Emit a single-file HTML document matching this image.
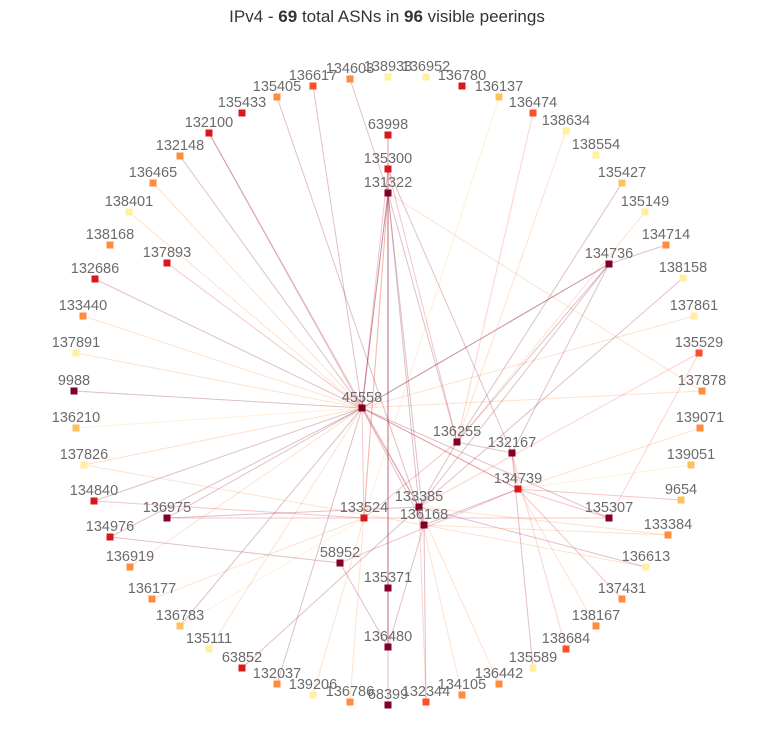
<!DOCTYPE html>
<html><head><meta charset="utf-8">
<style>
body{margin:0;background:#fff;}
svg{display:block;font-family:"Liberation Sans",sans-serif;}
.lbl{font-size:14.5px;fill:#6b6b6b;text-anchor:middle;}
</style></head>
<body>
<svg id="chart" width="774" height="751" viewBox="0 0 774 751">
<text x="387" y="22" text-anchor="middle" font-size="17" fill="#333">IPv4 - <tspan font-weight="bold">69</tspan> total ASNs in <tspan font-weight="bold">96</tspan> visible peerings</text>
<g id="edges"></g>
<g id="nodes"></g>
</svg>
<script>
const C={d:"#800026",r:"#d7191c",o:"#fc4e2a",f:"#fd8d3c",y:"#fec25c",p:"#ffef9f"};
const nodeNames=["136617","134603","138933","136952","136780","136137","136474","138634","138554","135427","135149","134714","138158","137861","135529","137878","139071","139051","9654","133384","136613","137431","138167","138684","135589","136442","134105","132344","68399","136786","139206","132037","63852","135111","136783","136177","136919","134976","134840","137826","136210","9988","137891","133440","132686","138168","138401","136465","132148","132100","135433","135405",
"63998","135300","131322","137893","134736","45558","136255","132167","134739","133385","136168","133524","136975","135307","58952","135371","136480"];
const nodeX=[313,350,388,426,462,499,533,566,596,622,645,666,683,694,699,702,700,691,681,668,646,622,596,566,533,499,462,426,388,350,313,277,242,209,180,152,130,110,94,84,76,74,76,83,95,110,129,153,180,209,242,277,
388,388,388,167,609,362,457,512,518,419,424,364,167,609,340,388,388];
const nodeY=[86,79,77,77,86,97,113,131,155,183,212,245,278,316,353,391,428,465,500,535,567,599,626,649,668,684,695,702,705,702,695,684,668,649,626,599,567,537,501,465,428,391,353,316,279,245,212,183,156,133,113,97,
135,169,193,263,264,408,442,453,489,507,525,518,518,518,563,588,647];
const nodeColor=["o","f","p","p","r","y","o","p","p","y","p","f","p","p","o","f","f","y","y","f","p","f","f","o","p","f","f","o","d","f","p","f","r","p","y","f","f","r","r","p","y","d","p","f","r","f","p","f","f","r","r","f",
"r","r","d","r","d","d","d","d","r","d","d","r","d","d","d","d","d"];
const edgeSource=["45558","45558","45558","45558","45558","45558","45558","45558","45558","45558","45558","45558","45558","45558","45558","45558","45558","45558","45558","45558","45558","45558","45558","45558","45558","45558",
"131322","131322","131322","131322","131322","131322","131322","131322","131322","131322","131322","131322","131322",
"135300","135300","63998","134736","134736","134736","134736","134736",
"136255","136255","136255","136255","136255","136255",
"132167","132167","132167","132167",
"134739","134739","134739","134739","134739","134739","134739",
"133385","133385","133385","133385","133385","133385","133385","133385","133385",
"136168","136168","136168","136168",
"133524","133524","133524","133524","133524","133524",
"58952","58952","58952","136480","136480","135307","135307","132100","132100","135405","136137","132148","136617"];
const edgeTarget=["9988","136210","137826","134840","137891","133440","132686","137893","136975","134976","136465","138401","131322","135300","134736","135307","134739","136168","133385","137878","137861","136783","135111","136919","132037","133524",
"63998","135300","133385","136168","135371","136480","133524","45558","136255","137878","134603","68399","136786",
"136255","132167","131322","136255","133385","132167","134714","45558",
"136474","135427","135149","138634","133385","133524",
"134739","135589","138684","136255",
"9654","139051","139071","137431","138167","136168","45558",
"135529","133384","136613","136442","134105","63852","132344","136975","138158",
"133384","136613","132344","137826",
"134840","136975","136177","136783","135307","139206",
"136480","134976","134739","136168","135371","135529","134739","133385","45558","136168","133524","45558","45558"];
const ns="http://www.w3.org/2000/svg";
const idx={};nodeNames.forEach((n,i)=>idx[n]=i);
const eg=document.getElementById('edges'),ng=document.getElementById('nodes');
edgeSource.forEach((s,k)=>{
  const a=idx[s],b=idx[edgeTarget[k]];
  const l=document.createElementNS(ns,'line');
  
  
  l.setAttribute('x1',nodeX[a]);l.setAttribute('y1',nodeY[a]);
  l.setAttribute('x2',nodeX[b]);l.setAttribute('y2',nodeY[b]);
  const col=C[nodeColor[b]]==C.p?C.f:C[nodeColor[b]];
  l.setAttribute('stroke',k%3==0?C[nodeColor[a]]:col);
  l.setAttribute('stroke-opacity','0.25');l.setAttribute('stroke-width','1');
  eg.appendChild(l);
});
nodeNames.forEach((n,i)=>{
  const g=document.createElementNS(ns,'g');
  
  
  const r=document.createElementNS(ns,'rect');
  r.setAttribute('x',nodeX[i]-3.5);r.setAttribute('y',nodeY[i]-3.5);
  r.setAttribute('width',7);r.setAttribute('height',7);
  r.setAttribute('fill',C[nodeColor[i]]);
  const t=document.createElementNS(ns,'text');
  t.setAttribute('class','lbl');t.setAttribute('x',nodeX[i]);t.setAttribute('y',nodeY[i]-6);
  t.textContent=n;
  g.appendChild(r);g.appendChild(t);ng.appendChild(g);
});
</script>
</body></html>
